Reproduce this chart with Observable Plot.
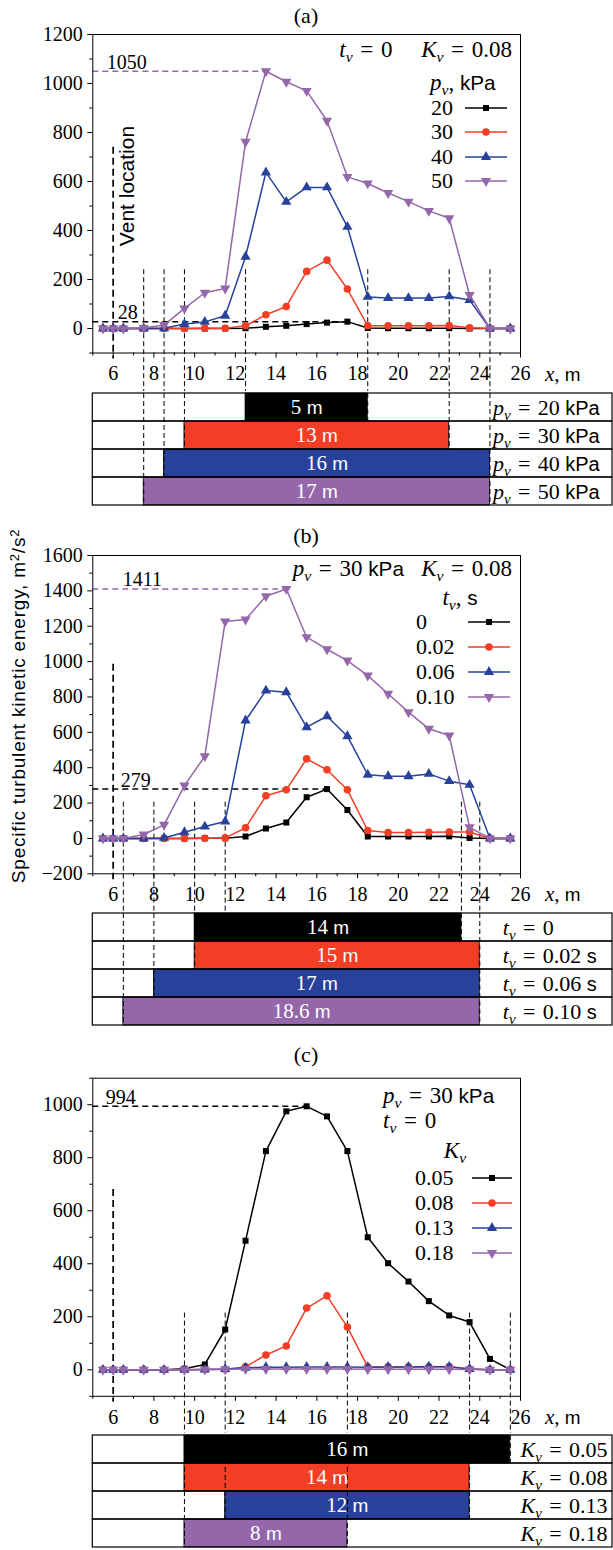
<!DOCTYPE html>
<html><head><meta charset="utf-8">
<script src="https://cdn.jsdelivr.net/npm/d3@7"></script>
<script src="https://cdn.jsdelivr.net/npm/@observablehq/plot@0.6"></script>
<style>
body{margin:0;background:#fff;}
#root{position:relative;width:613px;height:1550px;overflow:hidden;font-family:"Liberation Serif","Times New Roman",serif;color:#000;}
#root svg{position:absolute;left:0;}
.abs{position:absolute;white-space:nowrap;line-height:1;}
.sans{font-family:"Liberation Sans",Arial,Helvetica,sans-serif;}
sub{font-size:0.68em;vertical-align:-0.32em;line-height:0;}
sup{font-size:0.68em;vertical-align:0.45em;line-height:0;}
</style></head><body><div id="root"></div>
<script>
// ---------------- data ----------------
const xs = [5.5, 6, 6.5, 7.5, 8.5, 9.5, 10.5, 11.5, 12.5, 13.5, 14.5, 15.5, 16.5, 17.5, 18.5, 19.5, 20.5, 21.5, 22.5, 23.5, 24.5, 25.5];

// (a) t_v = 0, K_v = 0.08, varying p_v
const pv20 = [0, 0, 0, 0, 0, 0, 0, 0, 1, 7, 11, 18, 24, 28, 2, 1, 1, 1, 1, 0, 0, 0];
const pv30 = [0, 0, 0, 0, 0, 0, 1, 1, 11, 56, 90, 233, 279, 161, 11, 11, 11, 11, 12, 3, 0, 0];
const pv40 = [0, 0, 0, 0, 1, 18, 27, 52, 293, 637, 517, 576, 576, 415, 129, 124, 124, 124, 131, 116, 0, 0];
const pv50 = [0, 0, 0, 2, 14, 82, 146, 163, 762, 1050, 1007, 970, 848, 619, 592, 553, 518, 480, 450, 137, 0, 0];

// (b) p_v = 30 kPa, K_v = 0.08, varying t_v
const tv0   = [0, 0, 0, 0, 0, 0, 1, 1, 11, 56, 90, 233, 279, 161, 11, 11, 11, 11, 12, 3, 0, 0];
const tv002 = [0, 0, 0, 0, 0, 0, 1, 3, 60, 241, 275, 450, 388, 275, 45, 33, 33, 35, 36, 36, 0, 0];
const tv006 = [0, 0, 0, 0, 3, 35, 67, 96, 667, 836, 827, 629, 691, 578, 360, 352, 352, 365, 324, 303, 0, 0];
const tv010 = [0, 0, 0, 22, 77, 299, 465, 1227, 1238, 1370, 1411, 1138, 1070, 1006, 921, 818, 714, 620, 582, 63, 0, 0];

// (c) p_v = 30 kPa, t_v = 0, varying K_v
const kv005 = [0, 0, 0, 0, 0, 4, 20, 152, 487, 825, 975, 994, 956, 825, 500, 402, 333, 259, 205, 180, 41, 0];
const kv008 = [0, 0, 0, 0, 0, 0, 1, 1, 11, 56, 90, 233, 279, 161, 11, 11, 11, 11, 12, 3, 0, 0];
const kv013 = [0, 0, 0, 0, 0, 0, 1, 3, 8, 10, 10, 11, 11, 11, 10, 11, 11, 12, 11, 3, 0, 0];
const kv018 = [0, 0, 0, 0, 0, 0, 1, 2, 3, 3, 3, 3, 3, 3, 2, 2, 2, 2, 2, 1, 0, 0];

const legendA = ["20", "30", "40", "50"];
const legendB = ["0", "0.02", "0.06", "0.10"];
const legendC = ["0.05", "0.08", "0.13", "0.18"];

// extent bars (m)
const barStartA = [12.5, 9.5, 8.5, 7.5], barEndA = [18.5, 22.5, 24.5, 24.5], barLenA = ["5", "13", "16", "17"];
const barStartB = [10, 10, 8, 6.5], barEndB = [23.1, 24, 24, 24], barLenB = ["14", "15", "17", "18.6"];
const barStartC = [9.5, 9.5, 11.5, 9.5], barEndC = [25.5, 23.5, 23.5, 17.5], barLenC = ["16", "14", "12", "8"];
const rowUnitA = ["kPa", "kPa", "kPa", "kPa"];
const rowUnitB = ["", "s", "s", "s"];
const rowUnitC = ["", "", "", ""];

// dashed vertical markers (m)
const dashA = [7.5, 8.5, 9.5, 12.5, 18.5, 22.5, 24.5];
const dashB = [6.5, 8, 10, 11.5, 23.1, 24];
const dashC = [9.5, 11.5, 17.5, 23.5, 25.5];
const ventX = [6];

const xTicks = [6, 8, 10, 12, 14, 16, 18, 20, 22, 24, 26];
const xMinorTicks = [5, 7, 9, 11, 13, 15, 17, 19, 21, 23, 25];
const xDomain = [5, 26];

// ---------------- style ----------------
const SERIF = '"Liberation Serif","Times New Roman",serif';
const SANS = '"Liberation Sans",Arial,Helvetica,sans-serif';
const EQ = "\u2004=\u2004";
const colors = ["#000000", "#f13e24", "#28419b", "#9467aa"];
const triangleDown = {draw(ctx, size) {
  const s3 = Math.sqrt(3), y = -Math.sqrt(size / (s3 * 3));
  ctx.moveTo(0, -2 * y); ctx.lineTo(-s3 * y, y); ctx.lineTo(s3 * y, y); ctx.closePath();
}};
const symbols = ["square", "circle", "triangle", triangleDown];
const d3symbols = [d3.symbolSquare, d3.symbolCircle, d3.symbolTriangle, triangleDown];
const radii = [3.4, 3.8, 3.8, 3.8];

const root = document.getElementById("root");
const rich = new Map();
const plotStyle = {background: "none", fontFamily: SERIF, fontSize: "20px", color: "black", overflow: "visible"};
const fmt = d => d < 0 ? "\u2212" + Math.abs(d) : String(d);

function richify(svg) {
  svg.querySelectorAll("text").forEach(t => { const r = rich.get(t.textContent); if (r !== undefined) t.innerHTML = r; });
}
function svgVar(v) {
  return `<tspan font-style="italic">${v}</tspan><tspan font-style="italic" font-size="15" dy="5">v</tspan>`;
}
function htmlVar(v) { return `<i>${v}</i><sub><i>v</i></sub>`; }
function sans(s, size) { return `<span class="sans" style="font-size:${size || 0.9}em">${s}</span>`; }

function place(html, left, cy, anchor, size, extra, cls) {
  const el = document.createElement("div");
  el.className = "abs" + (cls ? " " + cls : "");
  el.style.left = left + "px";
  el.style.top = cy + "px";
  el.style.fontSize = (size || 21) + "px";
  const tx = anchor === "end" ? "-100%" : anchor === "middle" ? "-50%" : "0";
  el.style.transform = `translate(${tx},-50%)` + (extra || "");
  el.innerHTML = html;
  root.append(el);
  return el;
}

function glyph(k, x1, x2, cy) {
  const w = x2 - x1;
  const path = d3.symbol().type(d3symbols[k]).size(radii[k] * radii[k] * Math.PI)();
  const el = document.createElementNS("http://www.w3.org/2000/svg", "svg");
  el.setAttribute("width", w); el.setAttribute("height", 16);
  el.style.left = x1 + "px"; el.style.top = (cy - 8) + "px";
  el.innerHTML = `<line x1="0" x2="${w}" y1="8" y2="8" stroke="${colors[k]}" stroke-width="1.5"/><path d="${path}" transform="translate(${w / 2},8)" fill="${colors[k]}"/>`;
  root.append(el);
}

function chart(P) {
  const height = P.tableTop - P.svgTop, mt = P.frameTop - P.svgTop, mb = P.tableTop - P.frameBottom;
  const marks = [
    Plot.ruleX(P.dashX, {y1: P.dashTop, y2: P.yDomain[0], insetBottom: -mb, stroke: "black", strokeWidth: 1, strokeDasharray: "5,3"}),
    Plot.ruleX(ventX, {y1: P.ventTop, y2: P.yDomain[0], insetBottom: -6, stroke: "black", strokeWidth: 1.7, strokeDasharray: "7,4"})
  ];
  P.peaks.forEach(pk => {
    const vals = P.series[pk.k], i = d3.maxIndex(vals);
    const d = [{x: xs[i], y: vals[i]}];
    marks.push(Plot.ruleY(d, {y: "y", x1: xDomain[0], x2: "x", stroke: colors[pk.k], strokeWidth: 1.5, strokeDasharray: "6,4"}));
    marks.push(Plot.text(d, {x: xDomain[0], y: "y", text: v => String(v.y), dx: pk.dx, dy: -9, textAnchor: "start", fontSize: 20}));
  });
  P.series.forEach((vals, k) => {
    const d = xs.map((x, i) => ({x, y: vals[i]}));
    marks.push(Plot.line(d, {x: "x", y: "y", stroke: colors[k], strokeWidth: 1.5}));
    marks.push(Plot.dot(d, {x: "x", y: "y", fill: colors[k], symbol: symbols[k], r: radii[k]}));
  });
  marks.push(
    Plot.frame({stroke: "black", strokeWidth: 1}),
    Plot.axisX({ticks: xTicks, tickSize: 5, tickPadding: 8, fontSize: 20, tickFormat: fmt, label: null}),
    Plot.axisX({ticks: xMinorTicks, tickSize: 3, tickFormat: () => "", label: null}),
    Plot.axisY({ticks: P.yMajor, tickSize: 5, tickPadding: 5, fontSize: 20, tickFormat: fmt, label: null}),
    Plot.axisY({ticks: P.yMinor, tickSize: 3, tickFormat: () => "", label: null})
  );
  const svg = Plot.plot({
    width: 613, height, marginTop: mt, marginBottom: mb, marginLeft: 92.3, marginRight: 93,
    x: {domain: xDomain, axis: null, label: null},
    y: {domain: P.yDomain, axis: null, label: null},
    style: plotStyle, marks
  });
  svg.style.top = P.svgTop + "px";
  root.append(svg);

  // table of extents
  const rows = P.names.map((name, i) => ({name, start: P.barStart[i], end: P.barEnd[i], len: P.barLen[i], color: colors[i],
    label: `${P.v}_v = ${name}${P.units[i] ? " " + P.units[i] : ""}`}));
  rows.forEach(r => rich.set(r.len + " m", `${r.len}<tspan font-family='${SANS}' font-size="19"> m</tspan>`));
  rows.forEach((r, i) => rich.set(r.label, svgVar(P.v) + `<tspan dy="-5">${EQ}${r.name}</tspan>` + (P.units[i] ? `<tspan font-family='${SANS}' font-size="20"> ${P.units[i]}</tspan>` : "")));
  const names = rows.map(r => r.name);
  const dashRows = P.dashX.map(x => {
    let last = -1;
    rows.forEach((r, i) => { if (Math.abs(r.start - x) < 1e-6 || Math.abs(r.end - x) < 1e-6) last = i; });
    return {x, last};
  }).filter(d => d.last >= 0);
  const labelMark = P.labelAnchor === "end"
    ? Plot.text(rows, {y: "name", text: "label", frameAnchor: "right", textAnchor: "end", dx: -5, fontSize: 22})
    : Plot.text(rows, {x: d3.max(rows, r => r.end), y: "name", text: "label", textAnchor: "start", dx: P.labelDx, fontSize: 22});
  const tsvg = Plot.plot({
    width: 613, height: P.tableBottom - P.tableTop, marginLeft: 92.3, marginRight: 1, marginTop: 0.6, marginBottom: 0.6,
    x: {domain: xDomain, range: [92.3, 520], axis: null, label: null},
    y: {domain: names, padding: 0, axis: null, label: null},
    color: {type: "identity"},
    style: plotStyle,
    marks: [
      Plot.cell(rows, {y: "name", fill: "white"}),
      Plot.barX(rows, {x1: "start", x2: "end", y: "name", fill: "color", stroke: "black", strokeWidth: 0.8}),
      Plot.ruleX(dashRows, {x: "x", y1: () => names[0], y2: d => names[d.last], stroke: "black", strokeWidth: 1, strokeDasharray: "5,3"}),
      Plot.cell(rows, {y: "name", fill: "none", stroke: "black", strokeWidth: 1.2}),
      Plot.text(rows, {x: d => (d.start + d.end) / 2, y: "name", text: d => d.len + " m", fill: "white", fontSize: 21}),
      labelMark
    ]
  });
  richify(tsvg);
  tsvg.style.top = P.tableTop + "px";
  root.append(tsvg);

  // panel title and x label
  place(P.title, 306, P.titleY, "middle", 22);
  place(`<i>x</i>, ${sans("m")}`, 545, P.frameBottom + 21, "start", 21);
}

chart({title: "(a)", titleY: 16, svgTop: 0, frameTop: 34, frameBottom: 352.5, tableTop: 391, tableBottom: 506,
  yDomain: [-100, 1200], yMajor: d3.range(0, 1201, 200), yMinor: d3.range(-100, 1200, 200),
  series: [pv20, pv30, pv40, pv50], peaks: [{k: 0, dx: 25}, {k: 3, dx: 14}],
  dashX: dashA, dashTop: 240, ventTop: 740,
  names: legendA, barStart: barStartA, barEnd: barEndA, barLen: barLenA, v: "p", units: rowUnitA, labelAnchor: "start", labelDx: 3});

chart({title: "(b)", titleY: 536, svgTop: 500, frameTop: 555, frameBottom: 873.3, tableTop: 911, tableBottom: 1027,
  yDomain: [-200, 1600], yMajor: d3.range(-200, 1601, 200), yMinor: d3.range(-100, 1600, 200),
  series: [tv0, tv002, tv006, tv010], peaks: [{k: 0, dx: 28}, {k: 3, dx: 30}],
  dashX: dashB, dashTop: 205, ventTop: 985,
  names: legendB, barStart: barStartB, barEnd: barEndB, barLen: barLenB, v: "t", units: rowUnitB, labelAnchor: "start", labelDx: 23});

chart({title: "(c)", titleY: 1055, svgTop: 1040, frameTop: 1077.7, frameBottom: 1395.8, tableTop: 1433, tableBottom: 1549,
  yDomain: [-100, 1100], yMajor: d3.range(0, 1001, 200), yMinor: d3.range(-100, 1101, 200),
  series: [kv005, kv008, kv013, kv018], peaks: [{k: 0, dx: 13}],
  dashX: dashC, dashTop: 214, ventTop: 680,
  names: legendC, barStart: barStartC, barEnd: barEndC, barLen: barLenC, v: "K", units: rowUnitC, labelAnchor: "end"});

// ---------------- annotations & legends ----------------
const GAP = "&nbsp;&nbsp;&nbsp;&nbsp;&nbsp;";
const GAPB = "&nbsp;&nbsp;&nbsp;";
place(`${htmlVar("t")}${EQ}0${GAP}${htmlVar("K")}${EQ}0.08`, 512, 49, "end", 23);
place(`${htmlVar("p")}, ${sans("kPa")}`, 430, 82, "start", 23);
[107.5, 132, 156.5, 181].forEach((cy, k) => { place(legendA[k], 453, cy, "end", 22); glyph(k, 465, 507, cy); });

place(`${htmlVar("p")}${EQ}30 ${sans("kPa")}${GAPB}${htmlVar("K")}${EQ}0.08`, 512, 568, "end", 23);
place(`${htmlVar("t")}, ${sans("s")}`, 460, 597, "middle", 23);
[622, 647, 672, 697].forEach((cy, k) => { place(legendB[k], 416, cy, "start", 22); glyph(k, 468, 510, cy); });

place(`${htmlVar("p")}${EQ}30 ${sans("kPa")}`, 383, 1095, "start", 23);
place(`${htmlVar("t")}${EQ}0`, 383, 1120, "start", 23);
place(htmlVar("K"), 455, 1150, "middle", 23);
[1178, 1203, 1228, 1253].forEach((cy, k) => { place(legendC[k], 415, cy, "start", 22); glyph(k, 472, 512, cy); });

// vent label and shared y label
place(`Vent location`, 125.5, 186, "middle", 21, " rotate(-90deg)", "sans");
const ylab = place(`Specific turbulent kinetic energy, m<sup>2</sup>/s<sup>2</sup>`, 18, 706, "middle", 19, " rotate(-90deg)", "sans");
ylab.style.letterSpacing = "0.8px";
</script></body></html>
